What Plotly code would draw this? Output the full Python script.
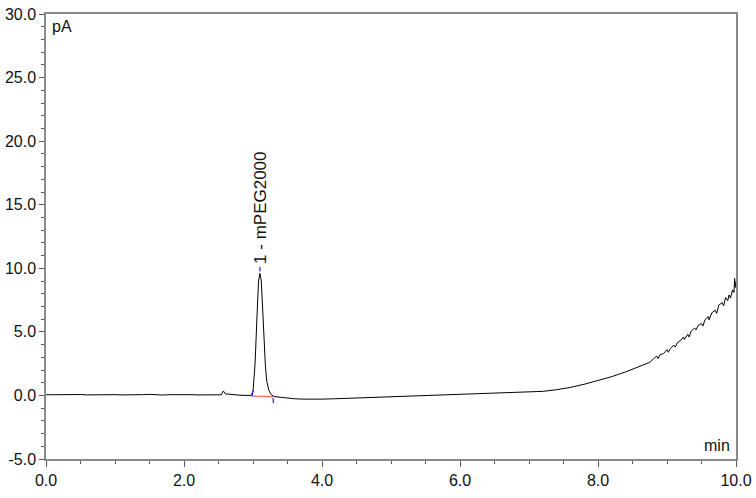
import plotly.graph_objects as go

# Chromatogram (time in min, signal in pA)
time_min = [0.0, 0.1, 0.2, 0.3, 0.4, 0.5, 0.6, 0.7, 0.8, 0.9, 1.0, 1.1, 1.2, 1.3, 1.4, 1.5,
            1.6, 1.7, 1.8, 1.9, 2.0, 2.1, 2.2, 2.3, 2.4, 2.5, 2.54, 2.57, 2.60, 2.65, 2.7,
            2.8, 2.9, 2.97, 3.00, 3.03, 3.06, 3.08, 3.10, 3.12, 3.14, 3.16, 3.18, 3.20,
            3.23, 3.26, 3.30, 3.4, 3.5, 3.6, 3.7, 3.8, 3.9, 4.0, 4.2, 4.4, 4.6, 4.8, 5.0,
            5.2, 5.4, 5.6, 5.8, 6.0, 6.2, 6.4, 6.6, 6.8, 7.0, 7.2, 7.4, 7.6, 7.8, 8.0,
            8.2, 8.4, 8.5, 8.6, 8.7, 8.75, 8.80, 8.85, 8.87, 8.90, 8.95, 9.00, 9.02, 9.05,
            9.10, 9.12, 9.15, 9.20, 9.24, 9.25, 9.30, 9.32, 9.35, 9.40, 9.42, 9.45,
            9.50, 9.52, 9.55, 9.60, 9.61, 9.65, 9.70, 9.72, 9.75, 9.80, 9.82, 9.85,
            9.88, 9.90, 9.92, 9.95, 9.97, 9.98, 9.99, 10.0]
signal_pA = [0.05, 0.06, 0.04, 0.06, 0.05, 0.07, 0.04, 0.06, 0.05, 0.07, 0.06, 0.04, 0.03, 0.02,
             0.06, 0.08, 0.05, 0.03, 0.06, 0.07, 0.05, 0.06, 0.04, 0.05, 0.04, 0.03, 0.05,
             0.35, 0.12, 0.10, 0.06, 0.02, 0.00, 0.00, 0.30, 2.5, 6.5, 9.0, 9.6, 9.0, 6.8,
             4.2, 2.3, 1.1, 0.4, 0.1, -0.08, -0.15, -0.22, -0.26, -0.29, -0.30, -0.30,
             -0.29, -0.26, -0.22, -0.18, -0.13, -0.09, -0.05, -0.01, 0.03, 0.06, 0.09,
             0.12, 0.15, 0.18, 0.22, 0.27, 0.32, 0.45, 0.63, 0.88, 1.15, 1.48, 1.85, 2.05,
             2.25, 2.5, 2.6, 2.85, 3.1, 2.9, 3.2, 3.3, 3.6, 3.4, 3.7, 3.95, 3.8, 4.15, 4.35,
             4.6, 4.4, 4.8, 4.6, 5.05, 5.3, 5.15, 5.5, 5.65, 5.45, 5.95, 6.2, 5.95, 6.5,
             6.7, 6.45, 7.1, 7.3, 7.05, 7.7, 7.45, 7.9, 7.65, 8.3, 8.1, 9.2, 8.5, 8.95]

# Peak integration marks
peak_label = "1 - mPEG2000"
peak_apex_time = 3.10
peak_apex_value = 9.6
baseline_times = [2.99, 3.29]
baseline_values = [-0.05, -0.10]
start_mark_times = [2.985, 3.0]
start_mark_values = [-0.1, 0.4]
end_mark_times = [3.29, 3.295]
end_mark_values = [-0.2, -0.6]
apex_mark_values = [9.75, 10.1]

x_ticks = [0, 2, 4, 6, 8, 10]
y_ticks = [-5, 0, 5, 10, 15, 20, 25, 30]

fig = go.Figure()
fig.add_trace(go.Scatter(x=time_min, y=signal_pA, mode="lines",
                         line=dict(color="black", width=1), hoverinfo="skip"))
fig.add_trace(go.Scatter(x=baseline_times, y=baseline_values, mode="lines",
                         line=dict(color="#ff6060", width=1.2)))
fig.add_trace(go.Scatter(x=start_mark_times, y=start_mark_values, mode="lines",
                         line=dict(color="#2020e0", width=1.2)))
fig.add_trace(go.Scatter(x=end_mark_times, y=end_mark_values, mode="lines",
                         line=dict(color="#2020e0", width=1.2)))
fig.add_trace(go.Scatter(x=[peak_apex_time, peak_apex_time], y=apex_mark_values, mode="lines",
                         line=dict(color="#2020e0", width=1.2)))

fig.add_annotation(x=peak_apex_time, y=apex_mark_values[1], text=peak_label, textangle=-90,
                   showarrow=False, xanchor="center", yanchor="bottom", yshift=1,
                   font=dict(family="Liberation Sans, Arial", size=17, color="#111"))
fig.add_annotation(x=0, y=1, xref="paper", yref="paper", text="pA", showarrow=False,
                   xanchor="left", yanchor="top", xshift=4, yshift=-2,
                   font=dict(family="Liberation Sans, Arial", size=16, color="#111"))
fig.add_annotation(x=1, y=0, xref="paper", yref="paper", text="min", showarrow=False,
                   xanchor="right", yanchor="bottom", xshift=-4, yshift=3,
                   font=dict(family="Liberation Sans, Arial", size=16, color="#111"))

axis_common = dict(showgrid=False, zeroline=False, showline=True, linecolor="#8a8a8a",
                   linewidth=1.5, mirror=True, ticks="outside", tickcolor="#555",
                   automargin=False,
                   tickfont=dict(family="Liberation Sans, Arial", size=16, color="#111"))
fig.update_xaxes(range=[0, 10], tickvals=x_ticks, ticktext=[f"{v:.1f}" for v in x_ticks],
                 ticklen=6, minor=dict(dtick=0.5, ticks="outside", ticklen=3, tickcolor="#555"),
                 **axis_common)
fig.update_yaxes(range=[-5, 30], tickvals=y_ticks, ticktext=[f"{v:.1f}" for v in y_ticks],
                 ticklen=5, minor=dict(dtick=1, ticks="outside", ticklen=3, tickcolor="#555"),
                 **axis_common)
fig.update_layout(width=756, height=498, margin=dict(l=46, r=20, t=14, b=39),
                  plot_bgcolor="white", paper_bgcolor="white", showlegend=False)
fig.write_html("out.html", config={"displayModeBar": False},
               post_script="document.body.style.margin='0px';document.body.style.overflow='hidden';")
